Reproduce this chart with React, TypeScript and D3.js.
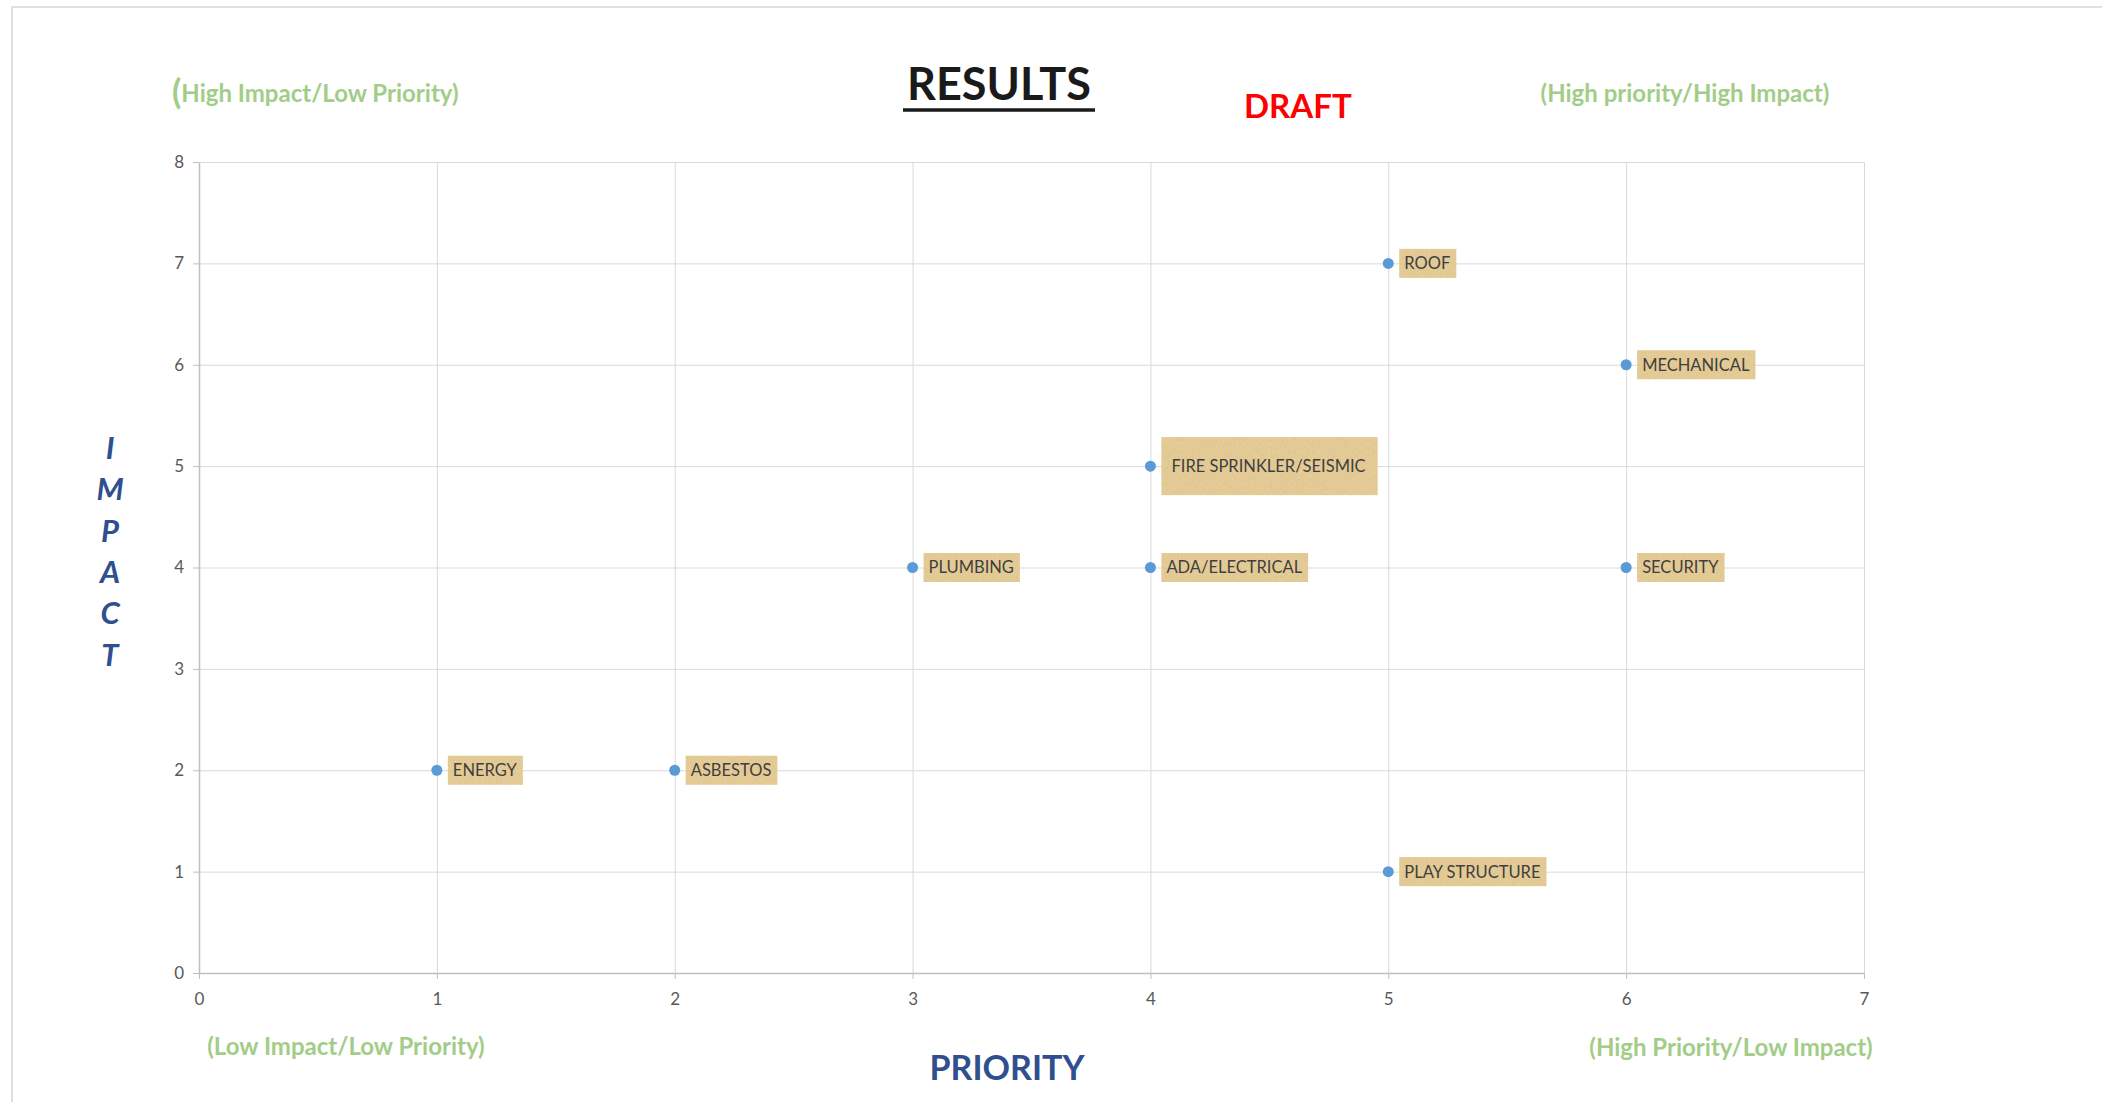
import React, { useEffect, useRef } from 'react';
import * as d3 from 'd3';

// priority (x) / impact (y) scores per item
const items = ['ENERGY', 'ASBESTOS', 'PLUMBING', 'ADA/ELECTRICAL', 'FIRE SPRINKLER/SEISMIC', 'ROOF', 'MECHANICAL', 'SECURITY', 'PLAY STRUCTURE'];
const priority = [1, 2, 3, 4, 4, 5, 6, 6, 5];
const impact = [2, 2, 4, 4, 5, 7, 6, 4, 1];
const xTicks = [0, 1, 2, 3, 4, 5, 6, 7];
const yTicks = [0, 1, 2, 3, 4, 5, 6, 7, 8];
const quadrantNotes = ['High Impact/Low Priority)', '(High priority/High Impact)', '(Low Impact/Low Priority)', '(High Priority/Low Impact)'];

const W = 2102;
const H = 1102;
const GREEN = '#a2cd88';
const BLUE = '#2f4f8e';
const FONT = 'Lato, "Open Sans", sans-serif';

const App = () => {
  const svgRef = useRef(null);

  useEffect(() => {
    const svg = d3.select(svgRef.current);
    svg.selectAll('*').remove();

    const x = d3.scaleLinear().domain([0, 7]).range([199, 1864]);
    const y = d3.scaleLinear().domain([0, 8]).range([973, 162]);

    // paper texture for the label boxes
    const defs = svg.append('defs');
    const f = defs.append('filter').attr('id', 'paper').attr('x', 0).attr('y', 0).attr('width', 1).attr('height', 1);
    f.append('feTurbulence').attr('type', 'fractalNoise').attr('baseFrequency', '0.9 0.25').attr('numOctaves', 2).attr('seed', 3).attr('result', 'noise');
    f.append('feColorMatrix').attr('in', 'noise').attr('type', 'matrix')
      .attr('values', '0 0 0 0 0.55  0 0 0 0 0.42  0 0 0 0 0.2  0 0 0 0.45 0').attr('result', 'tint');
    f.append('feComposite').attr('in', 'tint').attr('in2', 'SourceGraphic').attr('operator', 'in').attr('result', 'tex');
    f.append('feMerge').call(m => {
      m.append('feMergeNode').attr('in', 'SourceGraphic');
      m.append('feMergeNode').attr('in', 'tex');
    });

    svg.append('rect').attr('width', W).attr('height', H).attr('fill', '#fff');
    // page frame
    svg.append('path').attr('d', `M12,${H} V7 H${W}`).attr('fill', 'none').attr('stroke', '#d6d6d6').attr('stroke-width', 1.5);

    // gridlines
    svg.append('g').attr('transform', `translate(${x(0)},0)`)
      .call(d3.axisLeft(y).tickValues(yTicks.slice(1)).tickSize(-(x(7) - x(0))).tickFormat(() => ''))
      .call(g => g.select('.domain').remove())
      .call(g => g.selectAll('line').attr('stroke', '#d9d9d9'));
    svg.append('g').attr('transform', `translate(0,${y(0)})`)
      .call(d3.axisBottom(x).tickValues(xTicks.slice(1)).tickSize(-(y(0) - y(8))).tickFormat(() => ''))
      .call(g => g.select('.domain').remove())
      .call(g => g.selectAll('line').attr('stroke', '#d9d9d9'));

    // axes
    const yAxis = svg.append('g').attr('transform', `translate(${x(0)},0)`)
      .call(d3.axisLeft(y).tickValues(yTicks).tickFormat(d3.format('d')).tickSize(6).tickPadding(9).tickSizeOuter(0));
    const xAxis = svg.append('g').attr('transform', `translate(0,${y(0)})`)
      .call(d3.axisBottom(x).tickValues(xTicks).tickFormat(d3.format('d')).tickSize(6).tickPadding(14).tickSizeOuter(0));
    [yAxis, xAxis].forEach(a => {
      a.select('.domain').attr('stroke', '#bfbfbf').attr('stroke-width', 1.5);
      a.selectAll('line').attr('stroke', '#bfbfbf');
      a.selectAll('text').attr('fill', '#595959').attr('font-size', 17).attr('font-family', FONT);
    });

    // points
    svg.append('g').selectAll('circle').data(items).join('circle')
      .attr('cx', (d, i) => x(priority[i]))
      .attr('cy', (d, i) => y(impact[i]))
      .attr('r', 5.5)
      .attr('fill', '#5b9bd5');

    // data labels
    const lab = svg.append('g').selectAll('g').data(items).join('g')
      .attr('transform', (d, i) => `translate(${x(priority[i]) + 11},${y(impact[i])})`);
    lab.each(function (d) {
      const g = d3.select(this);
      const big = d === 'FIRE SPRINKLER/SEISMIC';
      const rect = g.append('rect').attr('fill', '#ebd19b').attr('filter', 'url(#paper)');
      const t = g.append('text').text(d)
        .attr('x', big ? 10 : 5).attr('dy', '0.36em')
        .attr('font-family', FONT).attr('font-size', 16.5).attr('fill', '#3f3f3f');
      const w = t.node().getComputedTextLength();
      const h = big ? 58 : 29;
      rect.attr('x', 0).attr('y', -h / 2).attr('width', w + (big ? 22 : 11)).attr('height', h);
    });

    // titles
    svg.append('text').text('RESULTS').attr('x', 999).attr('y', 100).attr('text-anchor', 'middle')
      .attr('font-family', FONT).attr('font-weight', 700).attr('font-size', 45).attr('fill', '#1a1a1a');
    svg.append('line').attr('x1', 903).attr('x2', 1095).attr('y1', 110).attr('y2', 110).attr('stroke', '#1a1a1a').attr('stroke-width', 3.5);
    svg.append('text').text('DRAFT').attr('x', 1244).attr('y', 118)
      .attr('font-family', FONT).attr('font-weight', 700).attr('font-size', 33).attr('fill', '#ff0000');

    // quadrant notes
    const note = (txt, xx, yy, anchor) => svg.append('text').attr('x', xx).attr('y', yy).attr('text-anchor', anchor)
      .attr('font-family', FONT).attr('font-weight', 700).attr('font-size', 24).attr('fill', GREEN).text(txt);
    const n0 = note('', 172, 102, 'start');
    n0.append('tspan').attr('font-size', 34).attr('dy', 2).text('(');
    n0.append('tspan').attr('dy', -2).text(quadrantNotes[0]);
    note(quadrantNotes[1], 1685, 102, 'middle');
    note(quadrantNotes[2], 346, 1055, 'middle');
    note(quadrantNotes[3], 1731, 1056, 'middle');

    // axis titles
    svg.append('text').text('PRIORITY').attr('x', 1007).attr('y', 1080).attr('text-anchor', 'middle')
      .attr('font-family', FONT).attr('font-weight', 700).attr('font-size', 34).attr('fill', BLUE);
    svg.append('g').selectAll('text').data('IMPACT'.split('')).join('text')
      .attr('x', 110).attr('y', (d, i) => 459 + i * 41.3).attr('text-anchor', 'middle')
      .attr('font-family', FONT).attr('font-weight', 700).attr('font-style', 'italic')
      .attr('font-size', 31).attr('fill', BLUE).text(d => d);
  }, []);

  return <svg ref={svgRef} width={W} height={H} style={{ position: 'absolute', left: 0, top: 0 }}></svg>;
};

export default App;
